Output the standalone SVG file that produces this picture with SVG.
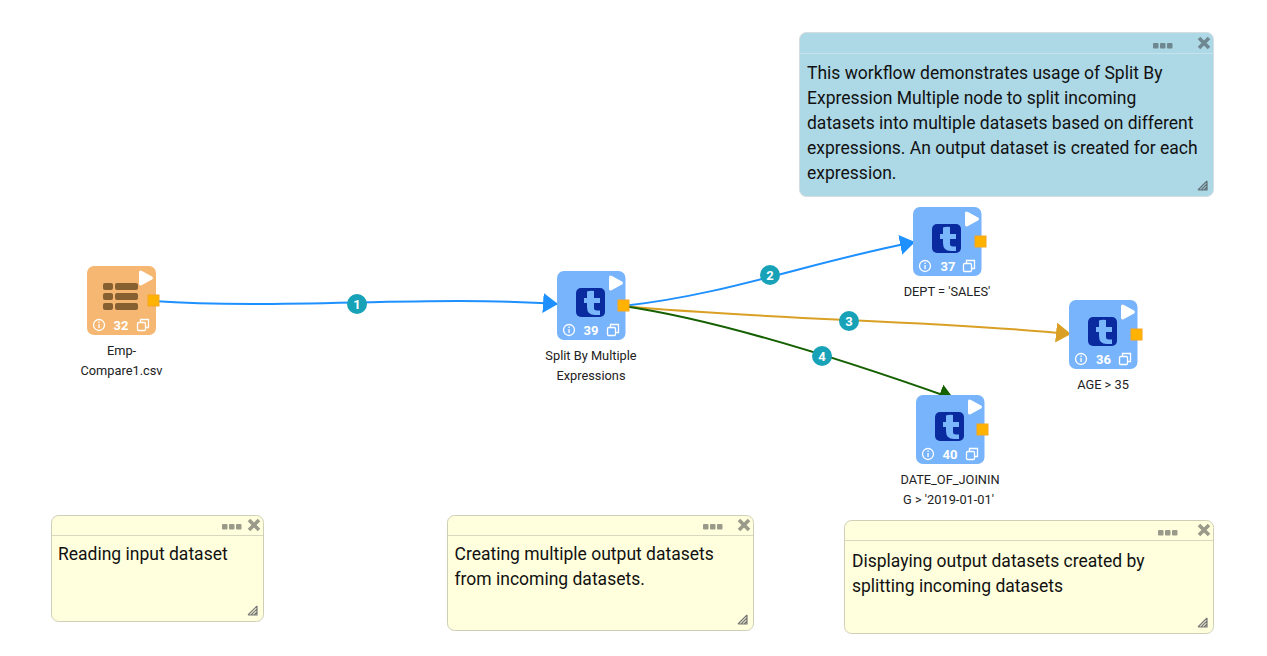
<svg xmlns="http://www.w3.org/2000/svg" xmlns:xlink="http://www.w3.org/1999/xlink" width="1267" height="656" viewBox="0 0 1267 656">
<style>
text{font-family:Roboto,"Liberation Sans",sans-serif}
.lbl{font-size:12.8px;fill:#222;text-anchor:middle}
.num{font-size:13px;font-weight:700;fill:#fff;text-anchor:middle}
.note{font-size:17.5px;fill:#111}
.cb{font-size:13px;font-weight:700;fill:#fff;text-anchor:middle}
.c{fill:none;stroke-width:2}
.port{fill:#ffb300;stroke:#f5a623;stroke-width:1}
.badge{fill:#17a2b8}
.lineicon{fill:none;stroke:#fff;stroke-width:1.3}
.grip{fill:none;stroke-width:1.2}
</style>
<defs>
<marker id="ab" markerUnits="userSpaceOnUse" markerWidth="16" markerHeight="20" refX="15" refY="10" orient="auto"><path d="M0 0L15 10L0 20Z" fill="#1e90ff"/></marker>
<marker id="ao" markerUnits="userSpaceOnUse" markerWidth="16" markerHeight="20" refX="15" refY="10" orient="auto"><path d="M0 0L15 10L0 20Z" fill="#daa025"/></marker>
<marker id="ag" markerUnits="userSpaceOnUse" markerWidth="16" markerHeight="20" refX="15" refY="10" orient="auto"><path d="M0 0L15 10L0 20Z" fill="#156000"/></marker>
<g id="foot">
<circle cx="12" cy="59" r="5.500" class="lineicon"/><rect x="11.400" y="58" width="1.300" height="4" fill="#fff"/><rect x="11.400" y="55.500" width="1.300" height="1.500" fill="#fff"/>
<rect x="50.500" y="56.500" width="8" height="8" rx="1.200" class="lineicon"/><path d="M53.500 56.500V53.500H61.500V61.500H58.500" class="lineicon"/>
<path d="M52 6.500Q52 3.500 55 5L65 10.500Q67 12 65 13.500L55 19Q52 20.500 52 17.500Z" fill="#fff"/>
</g>
<g id="tnode">
<rect x="0" y="0" width="68.500" height="69" rx="7" fill="#78b4fb"/>
<rect x="19" y="17" width="29" height="29" rx="5" fill="#0a2ba0"/>
<path d="M30 20.500Q33 19.500 37 20V27H43V32H37V37Q37 39.500 40 39.500H43V44H38Q30 44 30 36V32H27V27H30Z" fill="#7ab6fb"/>
<use xlink:href="#foot"/>
</g>
<g id="grip">
<path class="grip" d="M0 9L9 0M3 9L9 3M6 9L9 6M0 9H9V0"/>
</g>
</defs>

<g id="connectors">
<path class="c" stroke="#1e90ff" marker-end="url(#ab)" d="M153 301C280 310 430 295 558 304"/>
<path class="c" stroke="#1e90ff" marker-end="url(#ab)" d="M623 306C730 294 810 262 915 242"/>
<path class="c" stroke="#daa025" marker-end="url(#ao)" d="M623 306C770 320 930 320 1071 334"/>
<path class="c" stroke="#156000" marker-end="url(#ag)" d="M623 306C720 320 850 362 954 399"/>
<circle class="badge" cx="357" cy="304" r="10"/><text class="cb" x="357" y="308.500">1</text>
<circle class="badge" cx="770" cy="275" r="10"/><text class="cb" x="770" y="279.500">2</text>
<circle class="badge" cx="849" cy="321" r="10"/><text class="cb" x="849" y="325.500">3</text>
<circle class="badge" cx="822" cy="356" r="10"/><text class="cb" x="822" y="360.500">4</text>
</g>

<g id="node32">
<rect x="87" y="266" width="69" height="69" rx="7" fill="#f5b771"/>
<g fill="#876032">
<rect x="103" y="283" width="10" height="7" rx="2"/><rect x="115" y="283" width="23" height="7" rx="2"/>
<rect x="103" y="293" width="10" height="7" rx="2"/><rect x="115" y="293" width="23" height="7" rx="2"/>
<rect x="103" y="303" width="10" height="7" rx="2"/><rect x="115" y="303" width="23" height="7" rx="2"/>
</g>
<use xlink:href="#foot" x="87" y="266"/>
<text class="num" x="121" y="329.500">32</text>
<rect class="port" x="148" y="295" width="11" height="11"/>
<text class="lbl" x="121.500" y="355">Emp-</text><text class="lbl" x="121.500" y="375">Compare1.csv</text>
</g>
<g id="node39">
<use xlink:href="#tnode" x="557" y="271"/>
<text class="num" x="591" y="334.500">39</text>
<rect class="port" x="618" y="300" width="11" height="11"/>
<text class="lbl" x="591" y="360">Split By Multiple</text><text class="lbl" x="591" y="380">Expressions</text>
</g>
<g id="node37">
<use xlink:href="#tnode" x="913" y="207"/>
<text class="num" x="948" y="270.500">37</text>
<rect class="port" x="975" y="236" width="11" height="11"/>
<text class="lbl" x="947" y="296">DEPT = 'SALES'</text>
</g>
<g id="node36">
<use xlink:href="#tnode" x="1069" y="300"/>
<text class="num" x="1103.500" y="363.500">36</text>
<rect class="port" x="1131" y="329" width="11" height="11"/>
<text class="lbl" x="1103" y="389">AGE &gt; 35</text>
</g>
<g id="node40">
<use xlink:href="#tnode" x="916" y="395"/>
<text class="num" x="950" y="458.500">40</text>
<rect class="port" x="977" y="424" width="11" height="11"/>
<text class="lbl" x="950" y="484">DATE_OF_JOININ</text><text class="lbl" x="948.500" y="504">G &gt; '2019-01-01'</text>
</g>

<g id="note-main">
<rect x="799.500" y="32.500" width="414" height="164" rx="7" fill="#add8e6" stroke="#d5dde0"/>
<path d="M800 53.500H1213" stroke="#c6e2ea"/>
<g fill="#6f8790"><rect x="1153" y="43" width="5.500" height="5.500" rx="1"/><rect x="1160" y="43" width="5.500" height="5.500" rx="1"/><rect x="1167" y="43" width="5.500" height="5.500" rx="1"/></g>
<path d="M1199 38L1209 48M1209 38L1199 48" stroke="#6f8790" stroke-width="3.600"/>
<use xlink:href="#grip" x="1198" y="181" stroke="#5f6f75"/>
<text class="note"><tspan x="807" y="79">This workflow demonstrates usage of Split By</tspan><tspan x="807" y="104">Expression Multiple node to split incoming</tspan><tspan x="807" y="129">datasets into multiple datasets based on different</tspan><tspan x="807" y="154">expressions. An output dataset is created for each</tspan><tspan x="807" y="179">expression.</tspan></text>
</g>
<g id="note-read">
<rect x="51.500" y="515.500" width="212" height="106" rx="7" fill="#ffffdd" stroke="#cfcfb8"/>
<path d="M52 535.500H263" stroke="#d8d8c0"/>
<g fill="#9a9a8a"><rect x="222" y="524" width="5.500" height="5.500" rx="1"/><rect x="229" y="524" width="5.500" height="5.500" rx="1"/><rect x="236" y="524" width="5.500" height="5.500" rx="1"/></g>
<path d="M249 520L259 530M259 520L249 530" stroke="#9a9a8a" stroke-width="3.600"/>
<use xlink:href="#grip" x="248" y="606" stroke="#777"/>
<text class="note" x="58" y="560">Reading input dataset</text>
</g>
<g id="note-split">
<rect x="447.500" y="515.500" width="306" height="115" rx="7" fill="#ffffdd" stroke="#cfcfb8"/>
<path d="M448 535.500H753" stroke="#d8d8c0"/>
<g fill="#9a9a8a"><rect x="703" y="524" width="5.500" height="5.500" rx="1"/><rect x="710" y="524" width="5.500" height="5.500" rx="1"/><rect x="717" y="524" width="5.500" height="5.500" rx="1"/></g>
<path d="M739 520L749 530M749 520L739 530" stroke="#9a9a8a" stroke-width="3.600"/>
<use xlink:href="#grip" x="738" y="615" stroke="#777"/>
<text class="note"><tspan x="454.500" y="560">Creating multiple output datasets</tspan><tspan x="454.500" y="585">from incoming datasets.</tspan></text>
</g>
<g id="note-display">
<rect x="844.500" y="520.500" width="369" height="113" rx="7" fill="#ffffdd" stroke="#cfcfb8"/>
<path d="M845 540.500H1213" stroke="#d8d8c0"/>
<g fill="#9a9a8a"><rect x="1158" y="530" width="5.500" height="5.500" rx="1"/><rect x="1165" y="530" width="5.500" height="5.500" rx="1"/><rect x="1172" y="530" width="5.500" height="5.500" rx="1"/></g>
<path d="M1199 525L1209 535M1209 525L1199 535" stroke="#9a9a8a" stroke-width="3.600"/>
<use xlink:href="#grip" x="1198" y="618" stroke="#777"/>
<text class="note"><tspan x="852" y="567">Displaying output datasets created by</tspan><tspan x="852" y="592">splitting incoming datasets</tspan></text>
</g>
</svg>
